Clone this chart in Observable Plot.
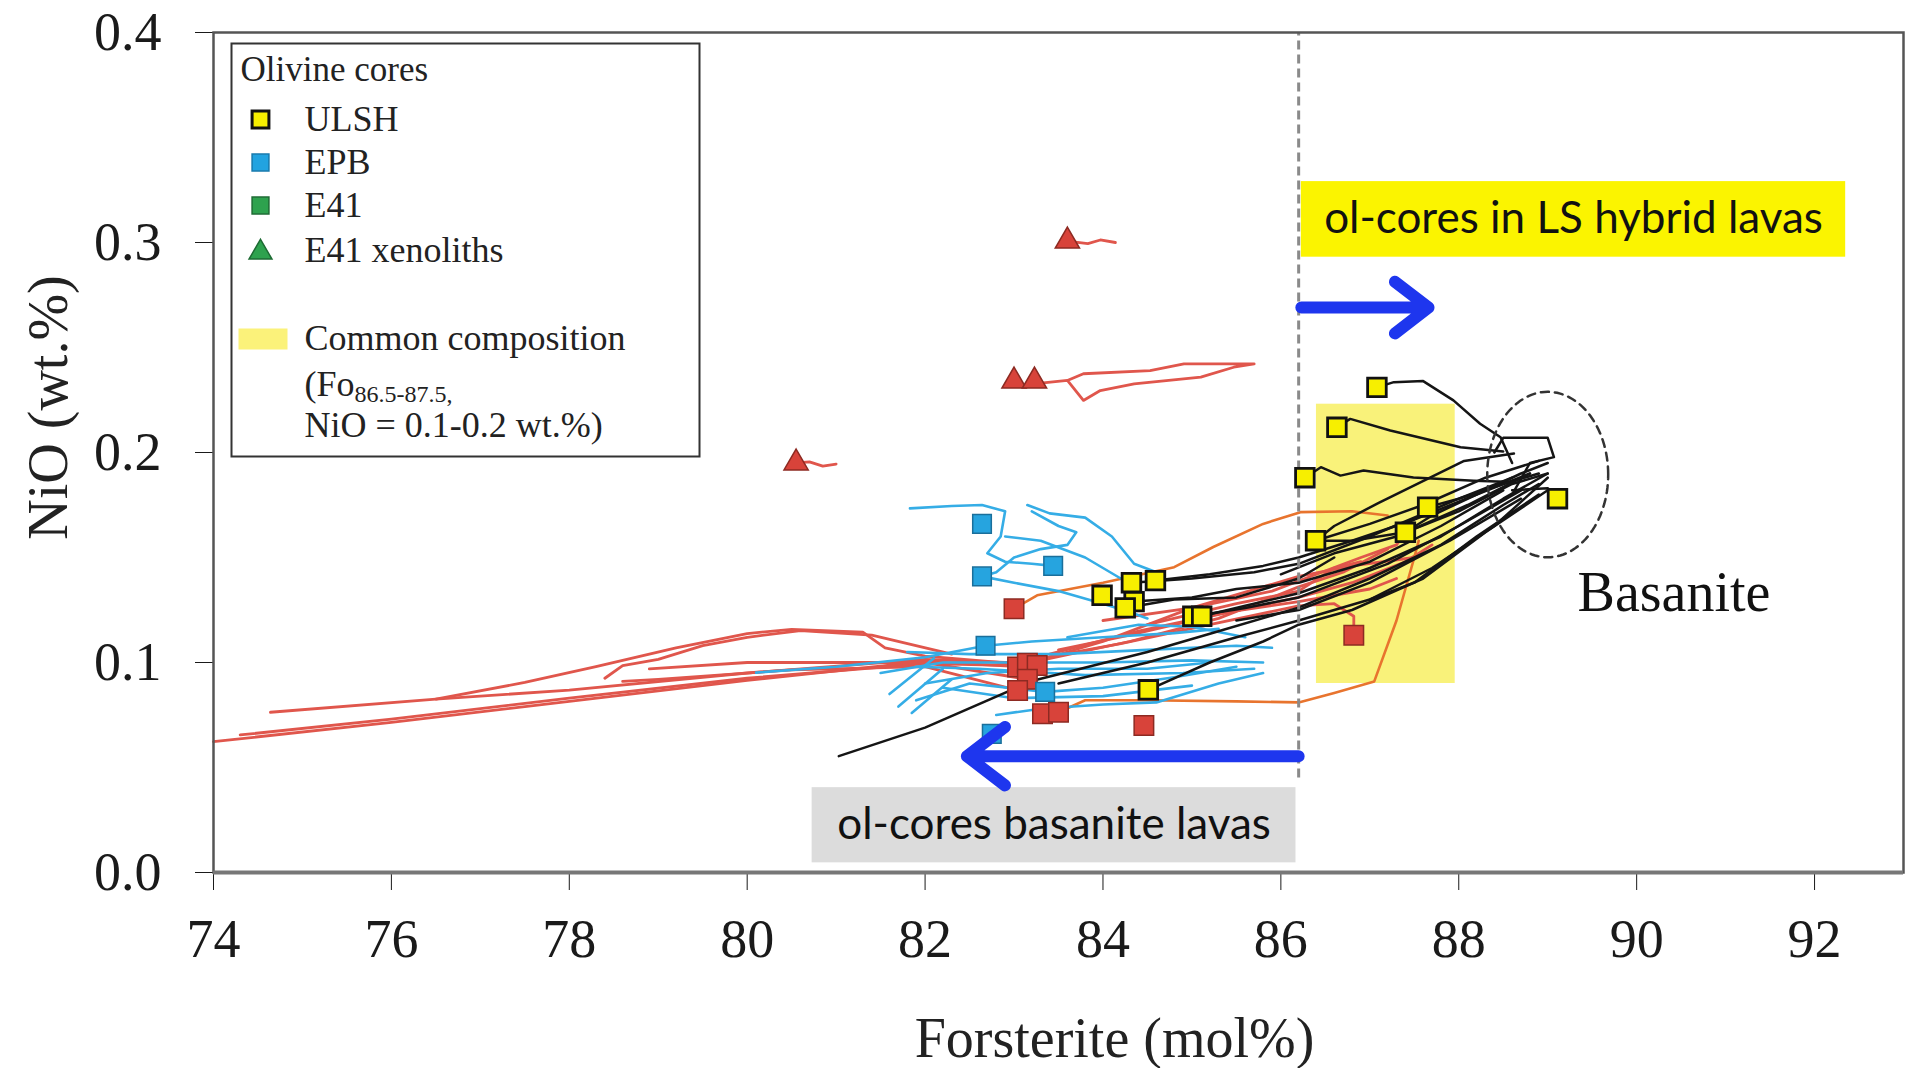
<!DOCTYPE html>
<html><head><meta charset="utf-8">
<script src="https://cdn.jsdelivr.net/npm/d3@7"></script>
<script src="https://cdn.jsdelivr.net/npm/@observablehq/plot@0.6"></script>
<style>html,body{margin:0;padding:0;background:#fff;overflow:hidden}</style>
</head><body><div id="chart"></div>
<script>
// ---------- axes ----------
const xDomain = [74, 93];
const yDomain = [0, 0.4];
const xTicks = [74, 76, 78, 80, 82, 84, 86, 88, 90, 92];
const yTicks = [0, 0.1, 0.2, 0.3, 0.4];
const xLabel = "Forsterite (mol%)";
const yLabel = "NiO (wt.%)";

// ---------- olivine cores (Fo, NiO) ----------
const ulshCores = [[87.08,0.231],[86.63,0.212],[86.27,0.188],[86.39,0.158],[87.40,0.162],[89.11,0.178],[87.65,0.174],
  [83.99,0.132],[84.32,0.138],[84.59,0.139],[84.35,0.129],[84.25,0.126],[85.01,0.122],[85.11,0.122],[84.51,0.087]];
const epbCores = [[82.64,0.166],[82.64,0.141],[83.44,0.146],[82.68,0.108],[82.75,0.066],[83.35,0.086]];
const e41Cores = [[83.0,0.1256],[83.04,0.0978],[83.15,0.0997],[83.26,0.0986],[83.15,0.092],[83.04,0.0867],
  [83.32,0.0756],[83.5,0.0763],[84.46,0.070],[86.82,0.113]];
const e41Xenoliths = [[83.6,0.3007],[83.0,0.234],[83.23,0.234],[80.55,0.195]];

// ---------- zoning profiles (core -> rim) ----------
const redProfiles = [
  [[83.6,0.3007],[83.83,0.2995],[83.97,0.3012],[84.14,0.300]],
  [[83.22,0.2327],[83.6,0.2343],[83.78,0.2248],[83.97,0.2295],[84.35,0.2327],[85.1,0.2359],[85.47,0.2406],[85.7,0.2422],[84.91,0.2422],[84.53,0.239],[83.78,0.2375],[83.6,0.2343]],
  [[80.55,0.195],[80.7,0.1955],[80.85,0.1935],[81.0,0.1945]],
  [[83.05,0.098],[82.0,0.1005],[80.0,0.0915],[78.0,0.0815],[76.0,0.0715],[74.0,0.0623]],
  [[83.1,0.0985],[82.0,0.0995],[80.0,0.0925],[78.0,0.083],[76.0,0.073],[74.3,0.0655]],
  [[83.15,0.0997],[82.0,0.1015],[80.0,0.095],[78.0,0.0868],[76.5,0.0826],[74.64,0.0763]],
  [[83.26,0.0986],[82.0,0.103],[81.55,0.107],[81.3,0.1145],[80.5,0.1158],[80.0,0.1138],[79.2,0.107],[78.3,0.098],[77.5,0.0905],[76.5,0.0826]],
  [[82.3,0.104],[81.4,0.113],[80.6,0.1152],[80.0,0.112],[79.5,0.108],[79.0,0.1015],[78.6,0.0985],[78.4,0.0925]],
  [[83.04,0.0867],[82.0,0.098],[80.5,0.0965],[79.0,0.092],[78.6,0.091]],
  [[83.15,0.092],[82.0,0.1],[80.0,0.1],[78.9,0.097]],
  [[83.5,0.106],[84.3,0.113],[85.2,0.122],[86.2,0.131],[86.8,0.138],[87.4,0.148],[87.7,0.156]],
  [[83.3,0.102],[84.2,0.109],[85.2,0.118],[86.2,0.127],[86.6,0.128],[86.82,0.122],[86.82,0.113]],
  [[83.2,0.1],[84.0,0.11],[85.0,0.126],[85.8,0.136],[86.2,0.141],[86.8,0.146],[87.5,0.15]],
  [[84.0,0.12],[85.0,0.126],[85.9,0.134],[86.4,0.142],[86.9,0.15],[87.3,0.156],[87.4,0.162]],
  [[84.5,0.118],[85.5,0.128],[86.2,0.134],[86.6,0.145],[86.9,0.148]],
  [[83.4,0.104],[84.4,0.115],[85.4,0.124],[86.2,0.129],[87.0,0.135],[87.3,0.14]],
  [[83.3,0.101],[84.3,0.11],[85.3,0.121],[86.2,0.136],[86.7,0.143],[87.2,0.154]]
];
const orangeProfiles = [
  [[83.0,0.1256],[83.26,0.132],[84.0,0.138],[84.8,0.1454],[85.24,0.155],[85.8,0.166],[86.22,0.1716],[86.8,0.172],[87.2,0.170]],
  [[83.5,0.0763],[83.8,0.082],[84.5,0.082],[85.5,0.0815],[86.2,0.081],[86.6,0.0855],[87.05,0.091],[87.3,0.12],[87.5,0.15],[87.55,0.158]]
];
const blueProfiles = [
  [[81.83,0.1734],[82.3,0.1745],[82.64,0.175],[82.9,0.172],[82.85,0.16],[82.7,0.152],[82.9,0.148],[83.2,0.147],[83.44,0.146]],
  [[83.15,0.175],[83.4,0.171],[83.8,0.169],[84.1,0.16],[84.35,0.147],[84.6,0.143]],
  [[83.2,0.172],[83.5,0.165],[83.7,0.162],[83.6,0.156],[83.3,0.154],[83.0,0.15],[82.8,0.143],[82.64,0.141]],
  [[82.64,0.141],[83.0,0.138],[83.5,0.134],[84.0,0.128],[84.3,0.124],[84.5,0.121]],
  [[82.68,0.108],[83.2,0.11],[84.0,0.112],[84.8,0.114],[85.3,0.116]],
  [[81.8,0.105],[82.5,0.104],[83.5,0.104],[84.5,0.106],[85.5,0.108],[85.9,0.107]],
  [[81.5,0.095],[82.2,0.1],[83.0,0.1],[84.0,0.1],[85.0,0.101],[85.8,0.1]],
  [[81.9,0.082],[82.5,0.09],[83.35,0.086],[84.0,0.088],[84.8,0.093],[85.5,0.098]],
  [[81.6,0.085],[82.1,0.102]],
  [[81.7,0.079],[82.2,0.097]],
  [[81.85,0.076],[82.3,0.092]],
  [[80.1,0.0952],[81.0,0.098],[82.0,0.1025],[82.68,0.108]],
  [[82.8,0.075],[83.3,0.078],[84.0,0.08],[84.6,0.081],[85.3,0.09],[85.8,0.095]],
  [[82.0,0.09],[82.7,0.095],[83.5,0.097],[84.5,0.097],[85.2,0.1]],
  [[82.9,0.16],[83.3,0.158],[83.8,0.15],[84.2,0.14]],
  [[81.9,0.098],[82.6,0.097],[83.8,0.094],[84.9,0.095],[85.7,0.097]],
  [[82.2,0.088],[83.0,0.083],[84.0,0.084],[85.0,0.089]],
  [[83.6,0.112],[84.4,0.118],[85.0,0.117],[85.6,0.112]]
];
const blackProfiles = [
  [[87.08,0.231],[87.27,0.2335],[87.6,0.234],[87.94,0.2248],[88.24,0.2137],[88.47,0.2073],[88.6,0.195]],
  [[86.63,0.212],[86.78,0.216],[87.23,0.2105],[88.02,0.2025],[88.5,0.2005]],
  [[86.27,0.188],[86.45,0.193],[86.67,0.189],[86.93,0.1914],[87.49,0.1881],[88.17,0.1866],[88.6,0.186]],
  [[88.4,0.2],[88.5,0.207],[89.0,0.207],[89.07,0.1978],[88.8,0.195],[88.6,0.18]],
  [[86.39,0.158],[86.6,0.165],[87.1,0.176],[88.06,0.196],[88.62,0.1995]],
  [[86.39,0.158],[87.0,0.166],[87.6,0.175],[88.3,0.188],[88.9,0.196]],
  [[87.40,0.162],[87.7,0.17],[88.2,0.18],[88.7,0.19],[89.0,0.195]],
  [[89.11,0.178],[89.0,0.183],[88.6,0.182]],
  [[84.59,0.139],[85.2,0.142],[85.8,0.146],[86.2,0.150],[86.8,0.158],[87.5,0.168],[88.2,0.18],[88.8,0.19]],
  [[84.32,0.138],[85.0,0.14],[85.7,0.143],[86.2,0.147],[87.0,0.16],[88.0,0.178],[88.6,0.188]],
  [[85.11,0.122],[85.6,0.127],[86.2,0.133],[87.0,0.145],[87.8,0.16],[88.5,0.178],[89.0,0.19]],
  [[85.01,0.122],[85.6,0.126],[86.2,0.131],[87.2,0.147],[88.0,0.165],[88.7,0.182]],
  [[81.03,0.0554],[82.0,0.069],[83.21,0.0913],[84.5,0.105],[85.26,0.1144],[86.19,0.126],[87.0,0.14],[87.8,0.156],[88.5,0.175],[88.9,0.185]],
  [[83.5,0.09],[84.5,0.1],[85.5,0.112],[86.2,0.12],[87.0,0.13],[87.5,0.138],[88.2,0.16],[88.9,0.18]],
  [[84.51,0.087],[85.2,0.1],[85.8,0.11],[86.2,0.118],[86.8,0.125],[87.6,0.14],[88.3,0.162],[89.0,0.182]],
  [[84.25,0.126],[84.8,0.13],[85.5,0.131],[86.2,0.14],[86.6,0.15]],
  [[84.35,0.129],[85.0,0.131],[85.5,0.135],[86.2,0.138],[87.0,0.148],[87.8,0.165],[88.5,0.182]],
  [[86.39,0.158],[86.8,0.158],[87.4,0.162],[88.0,0.172],[88.6,0.185],[89.0,0.19]],
  [[87.65,0.174],[88.0,0.178],[88.5,0.185],[88.9,0.19]],
  [[85.5,0.12],[86.2,0.125],[87.0,0.138],[87.9,0.158],[88.7,0.178]],
  [[86.0,0.142],[86.6,0.152],[87.3,0.16],[88.1,0.175],[88.8,0.19]],
  [[87.0,0.13],[87.7,0.145],[88.4,0.165],[89.0,0.188]]
];

// ---------- annotations ----------
const commonBox = {x1: 86.40, x2: 87.96, y1: 0.090, y2: 0.2230};
const hybridBox = {x1: 86.23, x2: 92.35, y1: 0.293, y2: 0.329, label: "ol-cores in LS hybrid lavas"};
const basaniteBox = {x1: 80.73, x2: 86.17, y1: 0.0046, y2: 0.0404, label: "ol-cores basanite lavas"};
const divideFo = 86.2, divideNiO = [0.045, 0.4];
const arrowRight = {x1: 86.23, x2: 87.66, y: 0.269};
const arrowLeft = {x1: 86.2, x2: 82.47, y: 0.0554};
const basaniteEllipse = {cx: 89.0, cy: 0.1895, rx: 0.68, ry: 0.0394, label: "Basanite", lx: 90.42, ly: 0.133};

// ---------- legend ----------
const legendTitle = "Olivine cores";
const legendItems = [
  {label: "ULSH", symbol: "square", fill: "#f7ef00", stroke: "#111"},
  {label: "EPB", symbol: "square", fill: "#22a3e0", stroke: "#1679ad"},
  {label: "E41", symbol: "square", fill: "#2ea24e", stroke: "#1d6b33"},
  {label: "E41 xenoliths", symbol: "triangle", fill: "#2ea24e", stroke: "#1d6b33"}
];
const legendCommon = ["Common composition", "(Fo", "86.5-87.5,", "NiO = 0.1-0.2 wt.%)"];

// ---------- build ----------
const rows = (profiles) => profiles.flatMap((p, i) => p.map(([x, y]) => ({x, y, id: i})));
const pts = (arr) => arr.map(([x, y]) => ({x, y}));
const ell = d3.range(0, 361, 3).map(a => ({
  x: basaniteEllipse.cx + basaniteEllipse.rx * Math.cos(a * Math.PI / 180),
  y: basaniteEllipse.cy + basaniteEllipse.ry * Math.sin(a * Math.PI / 180)
}));
const serif = "Liberation Serif, Times New Roman, serif";
const sans = "Lato, Open Sans, sans-serif";
const legendRows = [87, 130, 173, 218];

const marks = [
  Plot.rect([commonBox], {x1: "x1", x2: "x2", y1: "y1", y2: "y2", fill: "#f9f27a"}),
  Plot.rect([hybridBox], {x1: "x1", x2: "x2", y1: "y1", y2: "y2", fill: "#fbf400"}),
  Plot.rect([basaniteBox], {x1: "x1", x2: "x2", y1: "y1", y2: "y2", fill: "#dcdcdc"}),
  Plot.line(rows(redProfiles), {x: "x", y: "y", z: "id", stroke: "#e0564c", strokeWidth: 2.8}),
  Plot.line(rows(orangeProfiles), {x: "x", y: "y", z: "id", stroke: "#e8742e", strokeWidth: 2.6}),
  Plot.line(rows(blueProfiles), {x: "x", y: "y", z: "id", stroke: "#35ade6", strokeWidth: 2.6}),
  Plot.line(rows(blackProfiles), {x: "x", y: "y", z: "id", stroke: "#151515", strokeWidth: 2.5}),
  Plot.ruleX([divideFo], {y1: divideNiO[0], y2: divideNiO[1], stroke: "#8a8a8a", strokeWidth: 3, strokeDasharray: "9,5"}),
  Plot.line(ell, {x: "x", y: "y", stroke: "#333", strokeWidth: 2.5, strokeDasharray: "8,6"}),
  Plot.dot(pts(e41Cores), {x: "x", y: "y", symbol: "square", r: 11, fill: "#d8433a", stroke: "#8d2a22", strokeWidth: 1.5}),
  Plot.dot(pts(epbCores), {x: "x", y: "y", symbol: "square", r: 10.5, fill: "#26a4df", stroke: "#1a6f9b", strokeWidth: 1.5}),
  Plot.dot(pts(ulshCores), {x: "x", y: "y", symbol: "square", r: 10.5, fill: "#f7ef00", stroke: "#111", strokeWidth: 2.8}),
  Plot.dot(pts(e41Xenoliths), {x: "x", y: "y", symbol: "triangle", r: 9, fill: "#d8433a", stroke: "#8d2a22", strokeWidth: 1.5}),
  Plot.arrow([arrowRight], {x1: "x1", x2: "x2", y1: "y", y2: "y", stroke: "#1e36ee", strokeWidth: 12, headLength: 6, headAngle: 75, strokeLinecap: "round", strokeLinejoin: "round"}),
  Plot.arrow([arrowLeft], {x1: "x1", x2: "x2", y1: "y", y2: "y", stroke: "#1e36ee", strokeWidth: 12, headLength: 6, headAngle: 75, strokeLinecap: "round", strokeLinejoin: "round"}),
  Plot.text([hybridBox], {x: d => (d.x1 + d.x2) / 2, y: d => (d.y1 + d.y2) / 2, text: "label", fontFamily: sans, fontSize: 44, fill: "#111", lineAnchor: "middle"}),
  Plot.text([basaniteBox], {x: d => (d.x1 + d.x2) / 2, y: d => (d.y1 + d.y2) / 2, text: "label", fontFamily: sans, fontSize: 44, fill: "#111", lineAnchor: "middle"}),
  Plot.text([basaniteEllipse], {x: "lx", y: "ly", text: "label", fontFamily: serif, fontSize: 56, fill: "#111", lineAnchor: "middle"}),
  // legend
  Plot.frame({insetLeft: 18, insetTop: 11, insetRight: 1204, insetBottom: 416, stroke: "#333", strokeWidth: 2}),
  Plot.text([legendTitle], {frameAnchor: "top-left", dx: 27, dy: 37, text: d => d, textAnchor: "start", lineAnchor: "middle", fontFamily: serif, fontSize: 35, fill: "#222"}),
  ...legendItems.map((it, i) => Plot.dot([it], {frameAnchor: "top-left", dx: 47, dy: legendRows[i] + (it.symbol === "triangle" ? 2 : 0), symbol: it.symbol, r: it.symbol === "triangle" ? 8.5 : 9.5, fill: "fill", stroke: "stroke", strokeWidth: i === 0 ? 3 : 1.5})),
  ...legendItems.map((it, i) => Plot.text([it], {frameAnchor: "top-left", dx: 91, dy: legendRows[i], text: "label", textAnchor: "start", lineAnchor: "middle", fontFamily: serif, fontSize: 36, fill: "#222"})),
  Plot.frame({insetLeft: 25, insetTop: 296, insetRight: 1616, insetBottom: 523, fill: "#fbf27a", stroke: "none"}),
  Plot.text([legendCommon[0]], {frameAnchor: "top-left", dx: 91, dy: 306, text: d => d, textAnchor: "start", lineAnchor: "middle", fontFamily: serif, fontSize: 36, fill: "#222"}),
  Plot.text([legendCommon[1]], {frameAnchor: "top-left", dx: 91, dy: 352, text: d => d, textAnchor: "start", lineAnchor: "middle", fontFamily: serif, fontSize: 36, fill: "#222"}),
  Plot.text([legendCommon[2]], {frameAnchor: "top-left", dx: 141, dy: 362, text: d => d, textAnchor: "start", lineAnchor: "middle", fontFamily: serif, fontSize: 24, fill: "#222"}),
  Plot.text([legendCommon[3]], {frameAnchor: "top-left", dx: 91, dy: 393, text: d => d, textAnchor: "start", lineAnchor: "middle", fontFamily: serif, fontSize: 36, fill: "#222"}),
  // axis titles
  Plot.text([yLabel], {frameAnchor: "left", dx: -164, dy: -45, rotate: -90, text: d => d, textAnchor: "middle", fontFamily: serif, fontSize: 56, fill: "#222", lineAnchor: "middle"}),
  Plot.text([xLabel], {frameAnchor: "bottom", dx: 56, dy: 167, text: d => d, textAnchor: "middle", fontFamily: serif, fontSize: 56, fill: "#222", lineAnchor: "middle"}),
  Plot.frame({stroke: "#555", strokeWidth: 2.5}),
  Plot.ruleY([0], {stroke: "#777", strokeWidth: 4})
];

const chart = Plot.plot({
  width: 1905, height: 1068,
  marginLeft: 213, marginRight: 2, marginTop: 32, marginBottom: 196,
  style: {fontFamily: serif, fontSize: "54px", color: "#1a1a1a", background: "white"},
  x: {domain: xDomain, ticks: xTicks, tickSize: 18, tickPadding: 28, label: null, tickFormat: d3.format("d")},
  y: {domain: yDomain, ticks: yTicks, tickSize: 18, tickPadding: 34, label: null, tickFormat: d3.format(".1f")},
  marks
});
document.getElementById("chart").appendChild(chart);
</script>
</body></html>
